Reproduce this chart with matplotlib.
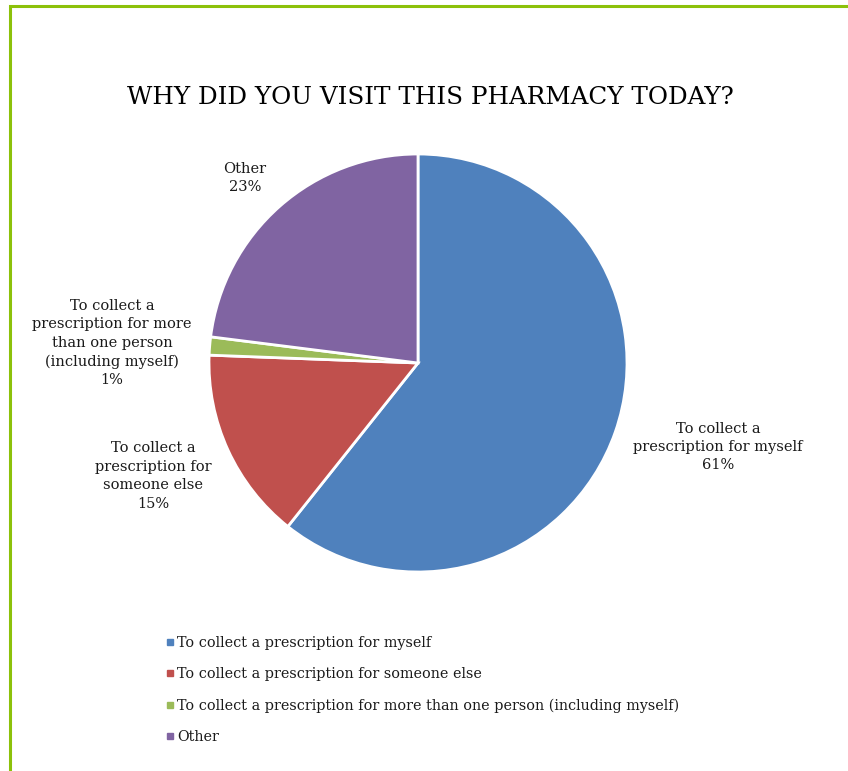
import matplotlib
matplotlib.use("Agg")
import matplotlib.pyplot as plt
from matplotlib.patches import Rectangle
from matplotlib.lines import Line2D

title = "WHY DID YOU VISIT THIS PHARMACY TODAY?"
categories = [
    "To collect a prescription for myself",
    "To collect a prescription for someone else",
    "To collect a prescription for more than one person (including myself)",
    "Other",
]
slice_labels = [
    "To collect a\nprescription for myself",
    "To collect a\nprescription for\nsomeone else",
    "To collect a\nprescription for more\nthan one person\n(including myself)",
    "Other",
]
values = [60.7, 14.9, 1.4, 23.0]
pct_labels = ["61%", "15%", "1%", "23%"]
colors = ["#4F81BD", "#C0504D", "#9BBB59", "#8064A2"]

W, H = 848, 771
fig = plt.figure(figsize=(W / 100, H / 100), dpi=100)
plt.rcParams['font.family'] = ['DejaVu Serif']

# border (left and top visible)
fig.patches.append(Rectangle((10 / W, -0.2), 1.2, 1.2 - 6 / H,
                             transform=fig.transFigure, fill=False,
                             edgecolor="#8CC10A", linewidth=2.2))

cx, cy, r = 418, 363, 209
ax = fig.add_axes([(cx - r) / W, (H - cy - r) / H, 2 * r / W, 2 * r / H])
ax.pie(values, colors=colors, startangle=90, counterclock=False,
       wedgeprops=dict(edgecolor="white", linewidth=2))
ax.set_xlim(-1, 1)
ax.set_ylim(-1, 1)
ax.set_aspect("equal")
ax.axis("off")

label_px = [(718, 447), (153, 476), (112, 343), (245, 178)]
for (px, py), lab, pct in zip(label_px, slice_labels, pct_labels):
    x = (px - cx) / r
    y = (cy - py) / r
    ax.text(x, y, lab + "\n" + pct, ha="center", va="center", fontsize=10.5,
            linespacing=1.4, color="#1a1a1a", clip_on=False)

fig.text(430 / W, 1 - 97 / H, title, ha="center", va="center", fontsize=17.7,
         color="black")

handles = [Line2D([0], [0], marker="s", linestyle="none", markersize=5,
                  markerfacecolor=c, markeredgecolor=c) for c in colors]
fig.legend(handles, categories, loc="upper left",
           bbox_to_anchor=(158 / W, 1 - 630 / H), frameon=False,
           fontsize=10.4, labelspacing=1.2, handletextpad=0.0,
           handlelength=0.9, borderaxespad=0, labelcolor="#1a1a1a")

fig.savefig("out.png", dpi=100)
